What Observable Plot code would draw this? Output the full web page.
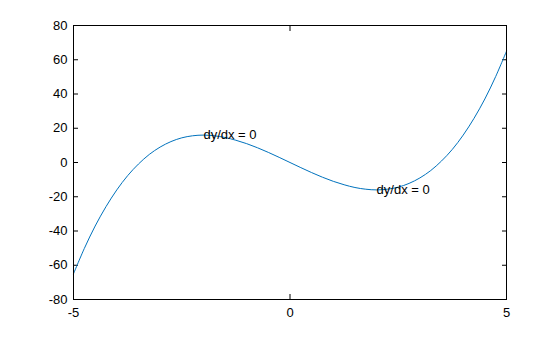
<!DOCTYPE html>
<html>
<head>
<meta charset="utf-8">
<script src="https://cdn.jsdelivr.net/npm/d3@7"></script>
<script src="https://cdn.jsdelivr.net/npm/@observablehq/plot@0.6"></script>
<style>
  html, body { margin: 0; padding: 0; background: #fff; }
  svg { display: block; }
</style>
</head>
<body>
<div id="chart"></div>
<script>
// Curve samples
const xs = [-5, -4.75, -4.5, -4.25, -4, -3.75, -3.5, -3.25, -3, -2.75, -2.5, -2.25, -2, -1.75, -1.5, -1.25, -1, -0.75, -0.5, -0.25, 0,
            0.25, 0.5, 0.75, 1, 1.25, 1.5, 1.75, 2, 2.25, 2.5, 2.75, 3, 3.25, 3.5, 3.75, 4, 4.25, 4.5, 4.75, 5];
const ys = [-65, -50.2, -37.1, -25.8, -16, -7.7, -0.9, 4.7, 9, 12.2, 14.4, 15.6, 16, 15.6, 14.6, 13.0, 11, 8.6, 5.9, 3.0, 0,
            -3.0, -5.9, -8.6, -11, -13.0, -14.6, -15.6, -16, -15.6, -14.4, -12.2, -9, -4.7, 0.9, 7.7, 16, 25.8, 37.1, 50.2, 65];
// Annotations
const noteX = [-2, 2];
const noteY = [16, -16];
const noteText = ["dy/dx = 0", "dy/dx = 0"];
// Ticks
const xTicks = [-5, 0, 5];
const yTicks = [-80, -60, -40, -20, 0, 20, 40, 60, 80];

const curve = xs.map((x, i) => ({x, y: ys[i]}));
const notes = noteX.map((x, i) => ({x, y: noteY[i], t: noteText[i]}));

const fmt = d => String(d);
const font = "Liberation Sans, Arial, Helvetica, sans-serif";
const chart = Plot.plot({
  width: 560,
  height: 337,
  marginLeft: 73,
  marginRight: 54,
  marginTop: 25,
  marginBottom: 38,
  style: {fontFamily: font, fontSize: "13px", background: "#fff", color: "#000"},
  x: {domain: [-5, 5]},
  y: {domain: [-80, 80]},
  marks: [
    Plot.axisX({anchor: "bottom", ticks: xTicks, tickSize: -5, tickPadding: 13, tickFormat: fmt, label: null, fontSize: 13}),
    Plot.axisX({anchor: "top", ticks: xTicks, tickSize: -5, tickFormat: () => "", label: null}),
    Plot.axisY({anchor: "left", ticks: yTicks, tickSize: -5, tickPadding: 11, tickFormat: fmt, label: null, fontSize: 13}),
    Plot.axisY({anchor: "right", ticks: yTicks, tickSize: -5, tickFormat: () => "", label: null}),
    Plot.line(curve, {x: "x", y: "y", stroke: "#0072BD", strokeWidth: 1, curve: "catmull-rom"}),
    Plot.text(notes, {x: "x", y: "y", text: "t", textAnchor: "start", fill: "#000", fontSize: 13}),
    Plot.frame({stroke: "#000", strokeWidth: 1})
  ]
});
document.getElementById("chart").appendChild(chart);
</script>
</body>
</html>
